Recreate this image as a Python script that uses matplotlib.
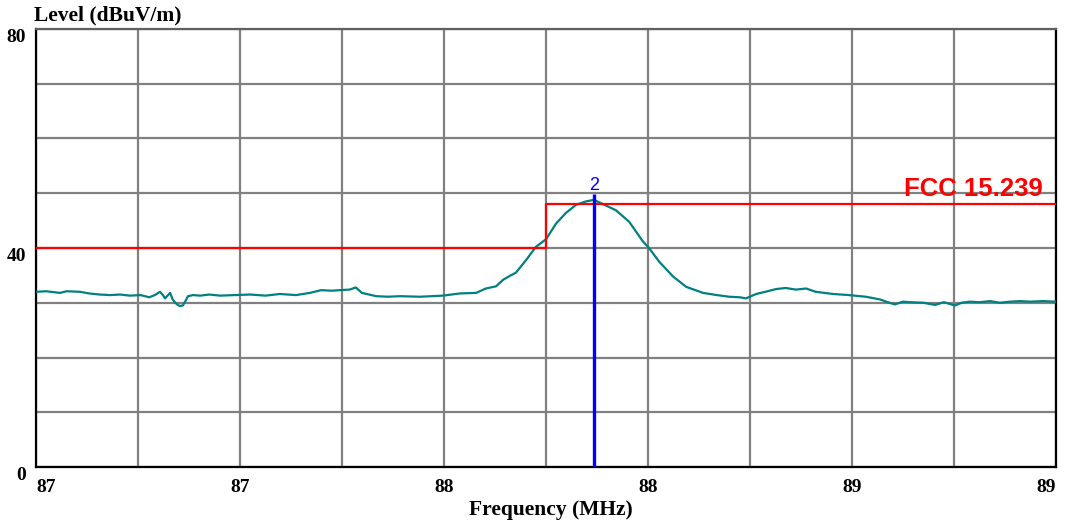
import numpy as np
import matplotlib
matplotlib.use("Agg")
import matplotlib.pyplot as plt

freq = [87.000, 87.020, 87.047, 87.060, 87.086, 87.104, 87.125, 87.145, 87.165, 87.184,
        87.205, 87.222, 87.233, 87.243, 87.248, 87.253, 87.263, 87.268, 87.273, 87.278,
        87.282, 87.288, 87.293, 87.298, 87.308, 87.322, 87.340, 87.361, 87.390, 87.420,
        87.450, 87.478, 87.510, 87.537, 87.559, 87.580, 87.596, 87.615, 87.627, 87.639,
        87.667, 87.690, 87.714, 87.753, 87.798, 87.831, 87.863, 87.882, 87.902, 87.916,
        87.929, 87.941, 87.961, 87.980, 88.000, 88.020, 88.039, 88.059, 88.078, 88.094,
        88.112, 88.137, 88.163, 88.190, 88.202, 88.222, 88.249, 88.275, 88.308, 88.335,
        88.359, 88.380, 88.392, 88.412, 88.430, 88.451, 88.470, 88.490, 88.510, 88.529,
        88.563, 88.594, 88.627, 88.655, 88.670, 88.684, 88.700, 88.714, 88.740, 88.763,
        88.780, 88.802, 88.815, 88.831, 88.850, 88.871, 88.890, 88.910, 88.930, 88.949,
        88.975, 89.000]
level = [32.0, 32.1, 31.8, 32.1, 32.0, 31.7, 31.5, 31.4, 31.5, 31.3,
         31.4, 31.0, 31.4, 32.0, 31.5, 30.8, 31.8, 30.6, 30.0, 29.6,
         29.4, 29.5, 30.3, 31.2, 31.4, 31.3, 31.5, 31.3, 31.4, 31.5,
         31.3, 31.6, 31.4, 31.8, 32.3, 32.2, 32.3, 32.4, 32.8, 31.8,
         31.2, 31.1, 31.2, 31.1, 31.3, 31.7, 31.8, 32.6, 33.0, 34.2,
         34.9, 35.5, 37.8, 40.2, 41.6, 44.5, 46.4, 47.9, 48.5, 48.8,
         48.0, 46.9, 44.8, 41.2, 40.0, 37.5, 34.8, 32.9, 31.8, 31.4,
         31.1, 31.0, 30.8, 31.6, 32.0, 32.5, 32.7, 32.4, 32.6, 32.0,
         31.6, 31.4, 31.1, 30.6, 30.1, 29.7, 30.2, 30.1, 30.0, 29.6,
         30.1, 29.5, 30.0, 30.2, 30.1, 30.3, 30.0, 30.2, 30.3, 30.2,
         30.3, 30.2]

# FCC 15.239 limit line
limit_freq = [87.0, 88.0, 89.0]
limit_level = [40, 48, 48]

marker_freq = 88.094
marker_level = 49.8

xticks = [87.0, 87.2, 87.4, 87.6, 87.8, 88.0, 88.2, 88.4, 88.6, 88.8, 89.0]
xlabels = ["87", "", "87", "", "88", "", "88", "", "89", "", "89"]
yticks = [0, 10, 20, 30, 40, 50, 60, 70, 80]
ylabels = ["0", "", "", "", "40", "", "", "", "80"]

serif = "Liberation Serif"

fig = plt.figure(figsize=(10.78, 5.21), dpi=100)
ax = fig.add_axes([36 / 1078, 54 / 521, 1020 / 1078, 438 / 521])

ax.plot(freq, level, color="#008080", lw=1.6, zorder=3)
ax.plot(limit_freq, limit_level, color="red", lw=1.6, drawstyle="steps-post", zorder=4)
ax.vlines(marker_freq, 0, marker_level, color="blue", lw=2.4, zorder=5)
ax.text(marker_freq, marker_level + 0.1, "2", color="blue", fontsize=13,
        family="Liberation Sans", ha="center", va="bottom", zorder=6)
ax.text(88.975, 48.6, "FCC 15.239", color="red", fontsize=18.5, fontweight="bold",
        family="Liberation Sans", ha="right", va="bottom", zorder=6)

ax.set_xlim(87, 89)
ax.set_ylim(0, 80)
ax.set_xticks(xticks)
ax.set_xticklabels(xlabels, family=serif, fontweight="bold", fontsize=14)
ax.set_yticks(yticks)
ax.set_yticklabels(ylabels, family=serif, fontweight="bold", fontsize=14)
ax.tick_params(length=0)
ax.tick_params(axis="x", pad=9)
ax.tick_params(axis="y", pad=7)
for lab in ax.get_yticklabels():
    lab.set_va("top")
xl = ax.get_xticklabels()
xl[0].set_ha("left")
xl[-1].set_ha("right")

ax.grid(True, color="#808080", lw=1.6)
ax.set_axisbelow(True)
for side in ["left", "bottom", "right"]:
    ax.spines[side].set_color("black")
    ax.spines[side].set_linewidth(1.6)
ax.spines["top"].set_color("#606060")
ax.spines["top"].set_linewidth(1.6)

fig.text(34 / 1078, 1 - 15 / 521, "Level (dBuV/m)", family=serif, fontweight="bold",
         fontsize=15.5, ha="left", va="center")
fig.text(551 / 1078, 1 - 510 / 521, "Frequency (MHz)", family=serif, fontweight="bold",
         fontsize=15.5, ha="center", va="center")

fig.savefig("out.png", dpi=100, facecolor="white")
